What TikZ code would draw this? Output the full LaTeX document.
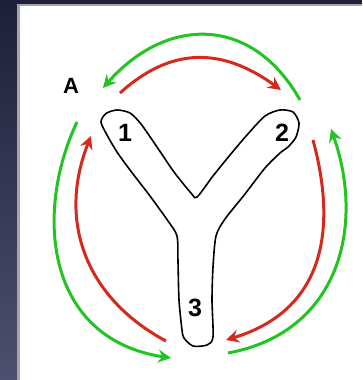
\documentclass[tikz,border=0pt]{standalone}
\usepackage{fontspec}
\setmainfont{Liberation Sans}
\usetikzlibrary{arrows.meta}
\definecolor{ygreen}{RGB}{34,196,34}
\definecolor{yred}{RGB}{214,40,28}
\definecolor{navytop}{RGB}{30,31,58}
\definecolor{navybot}{RGB}{76,80,110}
\definecolor{rimgray}{RGB}{165,165,165}
\begin{document}
\begin{tikzpicture}[x=1pt,y=-1pt,
  garc/.style={draw=ygreen, line width=3pt, -{Stealth[length=13pt,width=13pt,inset=4.5pt]}},
  rarc/.style={draw=yred, line width=3pt, -{Stealth[length=13pt,width=13pt,inset=4.5pt]}},
  lbl/.style={font=\bfseries\fontsize{22}{22}\selectfont, inner sep=0pt},
  dig/.style={font=\bfseries\fontsize{25}{25}\selectfont, inner sep=0pt},
  yshape/.style={draw=black, line width=1.6pt, line join=round}]
\useasboundingbox (0,0) rectangle (362,380);
% background
\fill[white] (0,0) rectangle (362,380);
\shade[top color=navytop, bottom color=navybot] (0,0) rectangle (18,380);
\fill[navytop] (0,0) rectangle (362,3.5);
\fill[rimgray] (17,3.5) rectangle (362,6);
\fill[rimgray] (17,3.5) rectangle (20,380);
% Y outline
\draw[yshape] plot[smooth cycle, tension=0.45] coordinates {
  (101,122) (106,113.5) (117,110) (130,113) (141,124) (157,147) (174,172)
  (191,193) (197,197) (213,176) (230,155) (247,135) (265,116) (280,110)
  (293,112) (299,123) (296,137) (288,147) (280,153) (265,168) (245,194)
  (225,219) (216,236) (213,267) (212,300) (213,337) (207,345) (193,346)
  (184,338) (182,330) (179,300) (178,262) (177,236) (168,221) (150,196)
  (130,170) (117,152) (107,135)};
% labels
\node[lbl] (A) at (71,86) {A};
\node[dig] (n1) at (125,133) {1};
\node[dig] (n2) at (282,133) {2};
\node[dig] (n3) at (195,308) {3};
% end points of the arcs
\coordinate (gt1) at (300,100); \coordinate (gt2) at (103,88);
\coordinate (rt1) at (120,93);  \coordinate (rt2) at (281,90);
\coordinate (gl1) at (77,122);  \coordinate (gl2) at (171,358);
\coordinate (rl1) at (166,341); \coordinate (rl2) at (91,136);
\coordinate (gr1) at (228,353); \coordinate (gr2) at (331,129);
\coordinate (rr1) at (313,140); \coordinate (rr2) at (226,340);
% green arcs
\draw[garc] (gt1) .. controls (251.7,14.3) and (166,16.5) .. (gt2);
\draw[garc] (gl1) .. controls (34,213) and (45.5,339) .. (gl2);
\draw[garc] (gr1) .. controls (339,332.6) and (365.3,226.7) .. (gr2);
% red arcs
\draw[rarc] (rt1) .. controls (170.5,47.3) and (221.2,46.5) .. (rt2);
\draw[rarc] (rl1) .. controls (87,298.8) and (56.7,222.2) .. (rl2);
\draw[rarc] (rr1) .. controls (337.4,230) and (324.3,310.3) .. (rr2);
\end{tikzpicture}
\end{document}
